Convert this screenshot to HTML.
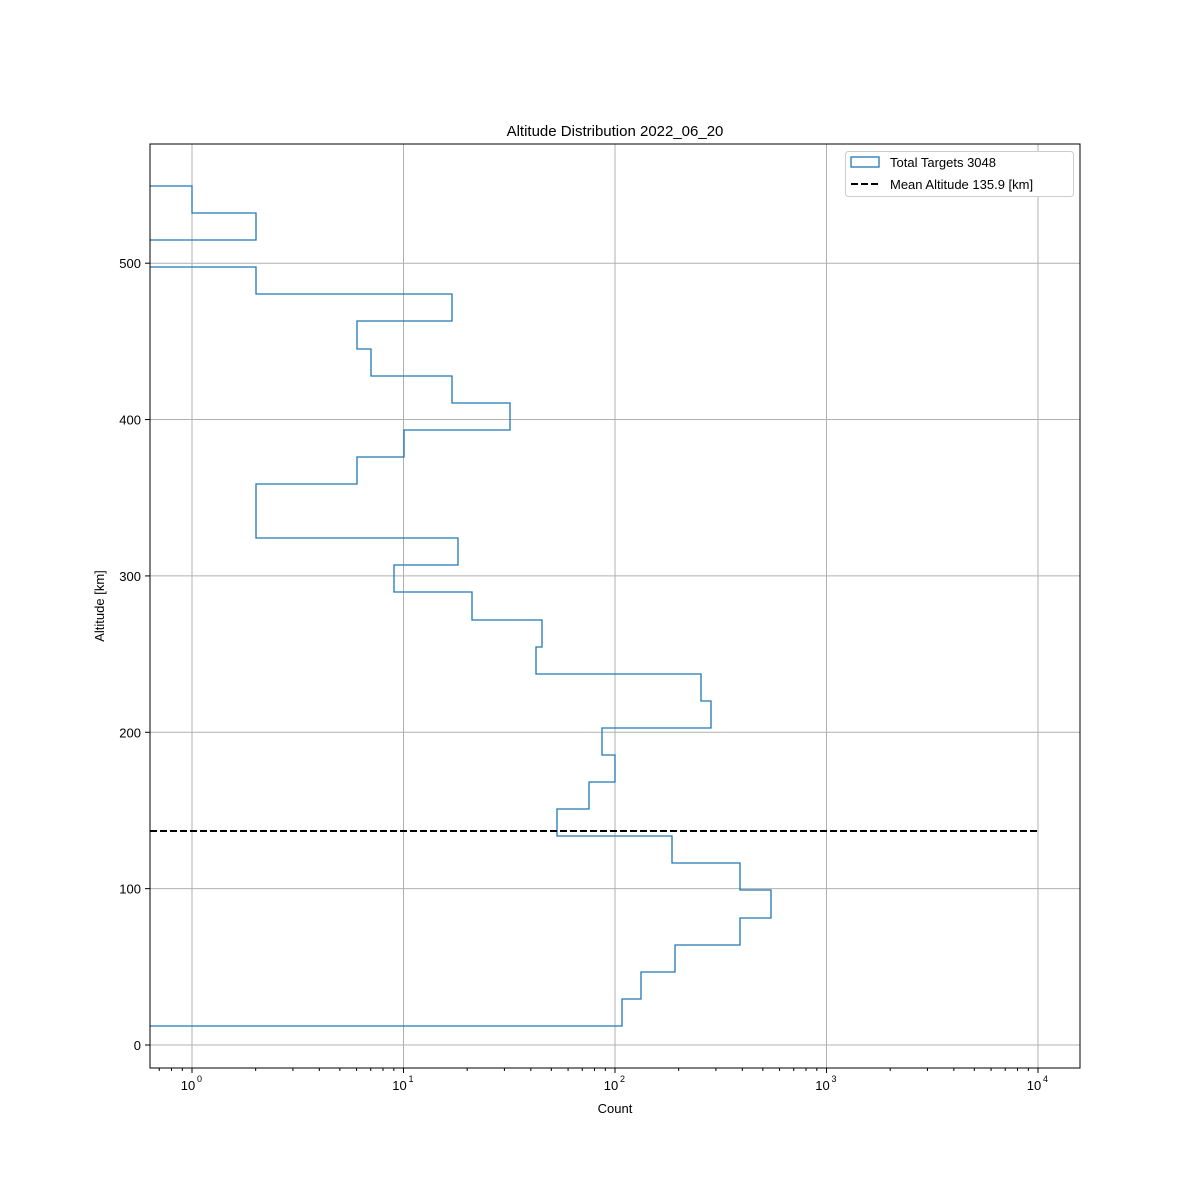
<!DOCTYPE html>
<html><head><meta charset="utf-8"><style>
html,body{margin:0;padding:0;background:#fff;}
svg{display:block;font-family:"Liberation Sans","DejaVu Sans",sans-serif;}
</style></head><body>
<svg id="s" width="1200" height="1200" xmlns="http://www.w3.org/2000/svg">
<rect width="1200" height="1200" fill="#fff"/>
<g id="grid" stroke="#b0b0b0" stroke-width="1"></g>
<path d="M150,186 H192 V213 H256 V240 H150 M150,267 H256 V294 H452 V321 H357 V349 H371 V376 H452 V403 H510 V430 H404 V457 H357 V484 H256 V538 H458 V565 H394 V592 H472 V620 H542 V647 H536 V674 H701 V701 H711 V728 H602 V755 H615 V782 H589 V809 H557 V836 H672 V863 H740 V890 H771 V918 H740 V945 H675 V972 H641 V999 H622 V1026 H150" fill="none" stroke="#1f77b4" stroke-width="1.3"/>
<line x1="150" y1="831" x2="1038" y2="831" stroke="#000" stroke-width="2" stroke-dasharray="7,3"/>
<g id="ticks" stroke="#000" stroke-width="1"></g>
<g id="labels" font-size="13" fill="#000"></g>
<rect x="150" y="144" width="930" height="924" fill="none" stroke="#000" stroke-width="1"/>
<text x="615" y="136" font-size="15" text-anchor="middle">Altitude Distribution 2022_06_20</text>
<text x="615" y="1113" font-size="13" text-anchor="middle">Count</text>
<text x="104" y="606" font-size="13" text-anchor="middle" transform="rotate(-90 104 606)">Altitude [km]</text>
<rect x="845.5" y="151.5" width="228" height="45" rx="3" fill="#fff" stroke="#ccc"/>
<rect x="851" y="157" width="28" height="10" fill="none" stroke="#1f77b4" stroke-width="1.3"/>
<text x="890" y="167" font-size="13">Total Targets 3048</text>
<line x1="851" y1="184" x2="879" y2="184" stroke="#000" stroke-width="2" stroke-dasharray="7,3"/>
<text x="890" y="189" font-size="13">Mean Altitude 135.9 [km]</text>
</svg>
<script>
var ns="http://www.w3.org/2000/svg";
function el(p,t,a,txt){var e=document.createElementNS(ns,t);for(var k in a)e.setAttribute(k,a[k]);if(txt!==undefined)e.textContent=txt;document.getElementById(p).appendChild(e);return e;}
var x0=192,dec=211.5;
function X(v){return x0+dec*Math.log10(v);}
for(var d=0;d<=4;d++){var x=X(Math.pow(10,d));
 el("grid","line",{x1:x,y1:144,x2:x,y2:1068});
 el("ticks","line",{x1:x,y1:1068,x2:x,y2:1073});
 var t=el("labels","text",{x:x-4,y:1090,"text-anchor":"middle"},"10");
 el("labels","text",{x:x+5,y:1082,"font-size":"9"},String(d));
}
for(var d=-1;d<=4;d++){for(var m=2;m<=9;m++){var x=X(m*Math.pow(10,d));if(x<150||x>1080)continue;
 el("ticks","line",{x1:x,y1:1068,x2:x,y2:1071});}}
for(var v=0;v<=500;v+=100){var y=1045-v*1.5636;
 el("grid","line",{x1:150,y1:y,x2:1080,y2:y});
 el("ticks","line",{x1:145,y1:y,x2:150,y2:y});
 el("labels","text",{x:141,y:y+5,"text-anchor":"end"},String(v));
}
</script>
</body></html>
